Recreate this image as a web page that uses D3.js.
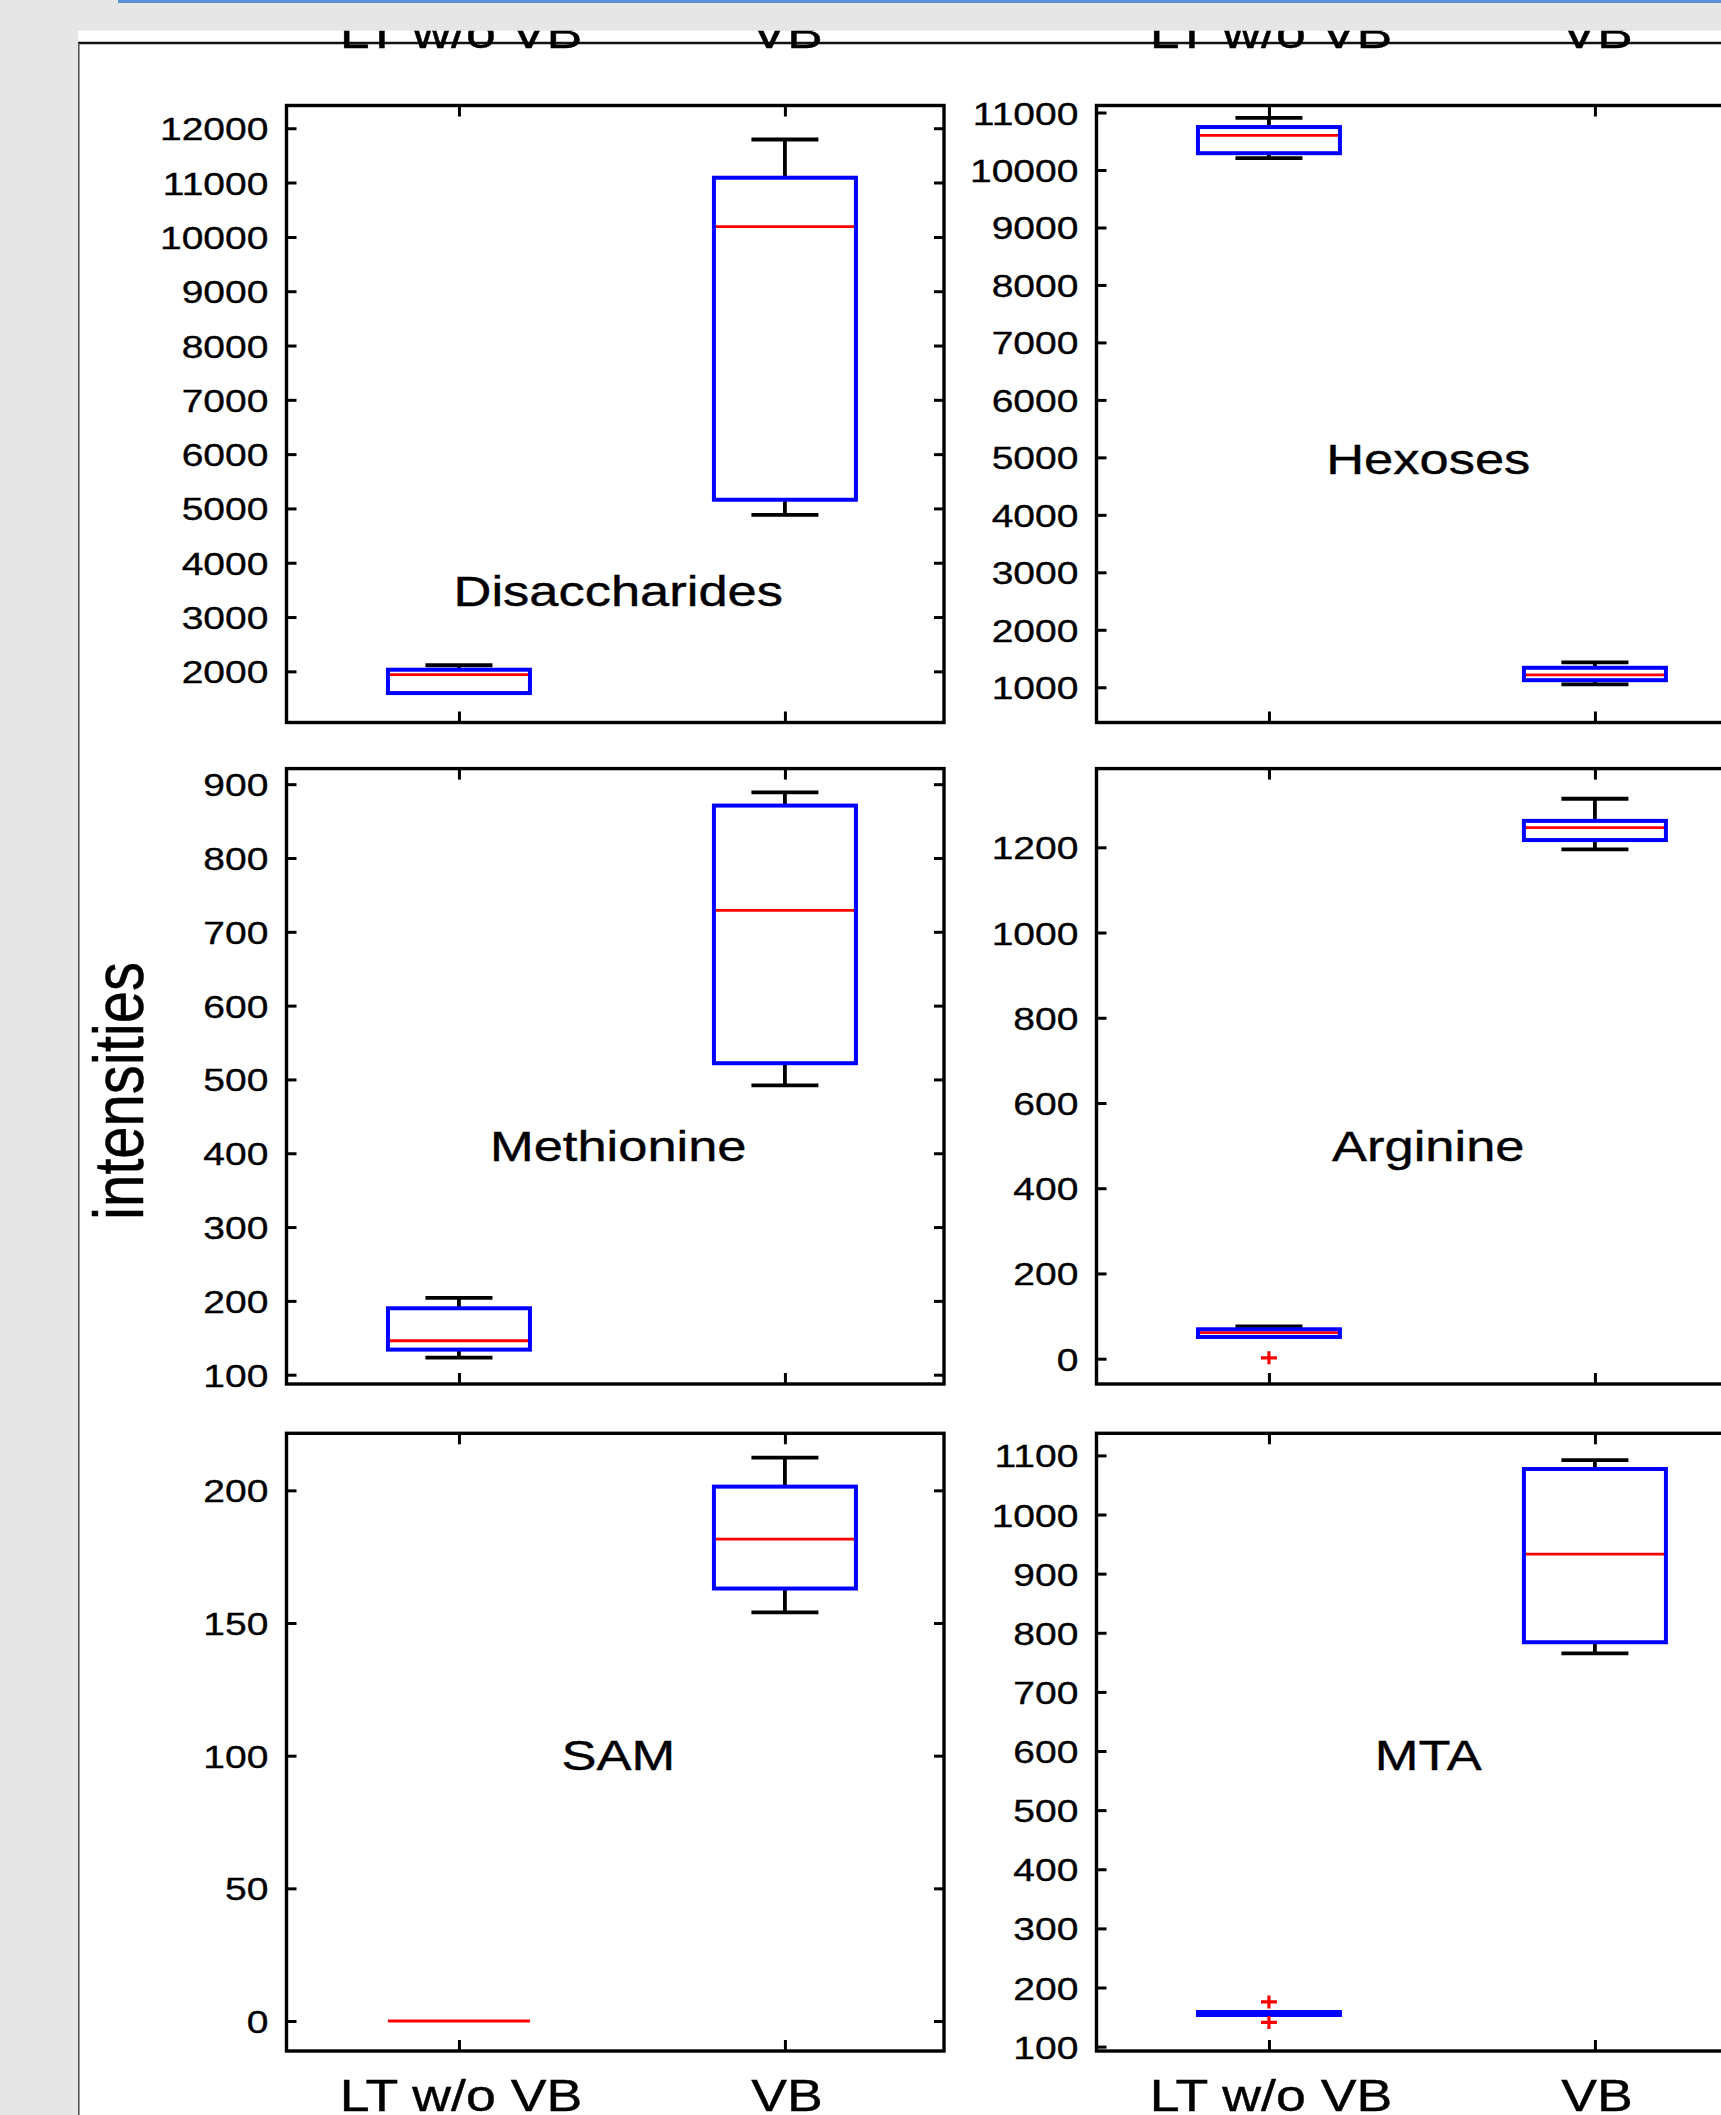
<!DOCTYPE html>
<html><head><meta charset="utf-8">
<script src="https://cdn.jsdelivr.net/npm/d3@7"></script>
<style>html,body{margin:0;padding:0;background:#e6e6e6;} svg{display:block;}</style>
</head><body>
<svg id="chart" width="1721" height="2115"></svg>
<script>
// ---------------- DATA ----------------
const groups = ["LT w/o VB", "VB"];
const groupPos = [1, 2];
const metabolites = ["Disaccharides", "Hexoses", "Methionine", "Arginine", "SAM", "MTA"];
// each: [lower whisker, Q1, median, Q3, upper whisker]
const disaccharidesLT = [1600, 1600, 1940, 2030, 2112];
const disaccharidesVB = [4880, 5160, 10190, 11090, 11794];
const hexosesLT = [10206, 10292, 10603, 10747, 10906];
const hexosesVB = [1051, 1123, 1217, 1339, 1433];
const methionineLT = [123, 134, 146, 190, 204];
const methionineVB = [492, 522, 729, 871, 889];
const arginineLT = [51, 51, 61, 69, 76];
const arginineVB = [1195, 1217, 1246, 1262, 1314];
const samLT = [0, 0, 0, 0, 0];
const samVB = [154, 163, 181.6, 201.4, 212.3];
const mtaLT = [153.5, 153.5, 156, 158.5, 158.5];
const mtaVB = [765, 784, 933, 1077, 1092];
// outliers
const disaccharidesOut = [[], []];
const hexosesOut = [[], []];
const methionineOut = [[], []];
const arginineOut = [[2], []];
const samOut = [[], []];
const mtaOut = [[141, 175.6], []];
// y tick labels
const disaccharidesTicks = [2000, 3000, 4000, 5000, 6000, 7000, 8000, 9000, 10000, 11000, 12000];
const hexosesTicks = [1000, 2000, 3000, 4000, 5000, 6000, 7000, 8000, 9000, 10000, 11000];
const methionineTicks = [100, 200, 300, 400, 500, 600, 700, 800, 900];
const arginineTicks = [0, 200, 400, 600, 800, 1000, 1200];
const samTicks = [0, 50, 100, 150, 200];
const mtaTicks = [100, 200, 300, 400, 500, 600, 700, 800, 900, 1000, 1100];
// axis limits
const disaccharidesLim = [1058, 12420];
const hexosesLim = [387, 11122];
const methionineLim = [87.4, 921.1];
const arginineLim = [-59.4, 1384.7];
const samLim = [-11.3, 221.5];
const mtaLim = [92.6, 1137.4];
const yLabel = "intensities";

const panels = [
  {name: metabolites[0], stats: [disaccharidesLT, disaccharidesVB], out: disaccharidesOut, ticks: disaccharidesTicks, lim: disaccharidesLim},
  {name: metabolites[1], stats: [hexosesLT, hexosesVB], out: hexosesOut, ticks: hexosesTicks, lim: hexosesLim},
  {name: metabolites[2], stats: [methionineLT, methionineVB], out: methionineOut, ticks: methionineTicks, lim: methionineLim},
  {name: metabolites[3], stats: [arginineLT, arginineVB], out: arginineOut, ticks: arginineTicks, lim: arginineLim},
  {name: metabolites[4], stats: [samLT, samVB], out: samOut, ticks: samTicks, lim: samLim},
  {name: metabolites[5], stats: [mtaLT, mtaVB], out: mtaOut, ticks: mtaTicks, lim: mtaLim}
];

// ---------------- LAYOUT ----------------
const W = 1721, H = 2115;
const SX = 1.22;               // horizontal stretch of the picture's text
const FONT = "'Liberation Sans', Arial, Helvetica, sans-serif";
const colX = [[286.5, 944], [1096.5, 1754]];
const rowY = [[105.5, 722.5], [768.6, 1384], [1433.3, 2051]];
const titleBase = [606, 474, 1161, 1161, 1770, 1770];
const xDomain = [0.471, 2.488];
const boxW = 0.4356, capW = 0.2055;
const LW = {frame: 3.4, tick: 3, box: 4, whisker: 3.8, median: 2.8, outlier: 3.2};

const svg = d3.select("#chart");
svg.append("rect").attr("width", W).attr("height", H).attr("fill", "#e6e6e6");
svg.append("rect").attr("x", 118).attr("y", 0).attr("width", W - 118).attr("height", 3).attr("fill", "#5b8fd6");

const defs = svg.append("defs");
defs.append("clipPath").attr("id", "fig").append("rect")
  .attr("x", 78).attr("y", 30.7).attr("width", W - 78).attr("height", H - 30.7);

svg.append("rect").attr("x", 78).attr("y", 30.7).attr("width", W - 78).attr("height", H - 30.7).attr("fill", "#fff");
const fig = svg.append("g").attr("clip-path", "url(#fig)");

fig.append("line").attr("x1", 78).attr("x2", W).attr("y1", 43).attr("y2", 43)
  .attr("stroke", "#111").attr("stroke-width", 2.4);
fig.append("line").attr("x1", 78.8).attr("x2", 78.8).attr("y1", 43).attr("y2", H)
  .attr("stroke", "#555").attr("stroke-width", 1.6);

function stretchText(sel, x, y, txt, size, anchor) {
  return sel.append("text")
    .attr("transform", `translate(${x},${y}) scale(${SX},1)`)
    .attr("text-anchor", anchor || "middle")
    .attr("font-family", FONT).attr("font-size", size).attr("fill", "#000")
    .attr("stroke", "#000").attr("stroke-width", 0.4)
    .text(txt);
}

// y label
fig.append("text")
  .attr("transform", `translate(143,1091) scale(${SX},1) rotate(-90)`)
  .attr("text-anchor", "middle").attr("font-family", FONT).attr("font-size", 58)
  .attr("fill", "#000").attr("stroke", "#000").attr("stroke-width", 0.4).text(yLabel);

panels.forEach((p, i) => {
  const col = i % 2, row = Math.floor(i / 2);
  const [x0, x1] = colX[col];
  const [top, bottom] = rowY[row];
  const x = d3.scaleLinear().domain(xDomain).range([x0, x1]);
  const y = d3.scaleLinear().domain(p.lim).range([bottom, top]);
  const g = fig.append("g");

  // ticks
  const left = g.append("g").attr("transform", `translate(${x0},0)`)
    .call(d3.axisLeft(y).tickValues(p.ticks).tickSize(-10).tickSizeOuter(0).tickPadding(18).tickFormat(d3.format("d")));
  left.selectAll("text").attr("x", 0).attr("dy", "0.36em")
    .attr("transform", `translate(-18,0) scale(${SX},1)`)
    .attr("font-family", FONT).attr("font-size", 32).attr("fill", "#000")
    .attr("stroke", "#000").attr("stroke-width", 0.35);
  g.append("g").attr("transform", `translate(${x1},0)`)
    .call(d3.axisRight(y).tickValues(p.ticks).tickSize(-10).tickSizeOuter(0).tickFormat(""));
  g.append("g").attr("transform", `translate(0,${top})`)
    .call(d3.axisTop(x).tickValues(groupPos).tickSize(-11).tickSizeOuter(0).tickFormat(""));
  g.append("g").attr("transform", `translate(0,${bottom})`)
    .call(d3.axisBottom(x).tickValues(groupPos).tickSize(-11).tickSizeOuter(0).tickFormat(""));
  g.selectAll(".domain").remove();
  g.selectAll(".tick line").attr("stroke", "#000").attr("stroke-width", LW.tick);

  // frame
  g.append("rect").attr("x", x0).attr("y", top).attr("width", x1 - x0).attr("height", bottom - top)
    .attr("fill", "none").attr("stroke", "#000").attr("stroke-width", LW.frame);

  // boxes
  p.stats.forEach((s, gi) => {
    const [lo, q1, med, q3, hi] = s;
    const cx = x(groupPos[gi]);
    const bw = x(groupPos[gi] + boxW / 2) - cx;
    const cw = x(groupPos[gi] + capW / 2) - cx;
    const b = g.append("g");
    if (hi > q3) {
      b.append("line").attr("x1", cx).attr("x2", cx).attr("y1", y(q3)).attr("y2", y(hi))
        .attr("stroke", "#000").attr("stroke-width", LW.whisker);
      b.append("line").attr("x1", cx - cw).attr("x2", cx + cw).attr("y1", y(hi)).attr("y2", y(hi))
        .attr("stroke", "#000").attr("stroke-width", LW.whisker);
    }
    if (lo < q1) {
      b.append("line").attr("x1", cx).attr("x2", cx).attr("y1", y(q1)).attr("y2", y(lo))
        .attr("stroke", "#000").attr("stroke-width", LW.whisker);
      b.append("line").attr("x1", cx - cw).attr("x2", cx + cw).attr("y1", y(lo)).attr("y2", y(lo))
        .attr("stroke", "#000").attr("stroke-width", LW.whisker);
    }
    b.append("line").attr("x1", cx - bw).attr("x2", cx + bw).attr("y1", y(med)).attr("y2", y(med))
      .attr("stroke", "#f00").attr("stroke-width", LW.median);
    b.append("rect").attr("x", cx - bw).attr("y", y(q3)).attr("width", 2 * bw).attr("height", y(q1) - y(q3))
      .attr("fill", "none").attr("stroke", "#00f").attr("stroke-width", LW.box);
    p.out[gi].forEach(o => {
      b.append("path").attr("transform", `translate(${cx},${y(o)})`)
        .attr("d", "M-8,0H8M0,-6.5V6.5").attr("stroke", "#f00").attr("stroke-width", LW.outlier).attr("fill", "none");
    });
  });

  // title
  stretchText(g, (x0 + x1) / 2 + 3, titleBase[i], p.name, 43);

  // x labels (bottom row, and clipped labels of the row above at the top)
  if (row === 2) {
    groups.forEach((lab, gi) => stretchText(g, x(groupPos[gi]) + 2, bottom + 60, lab, 44));
  }
  if (row === 0) {
    groups.forEach((lab, gi) => stretchText(g, x(groupPos[gi]) + 2, 48, lab, 44));
  }
});
</script>
</body></html>
